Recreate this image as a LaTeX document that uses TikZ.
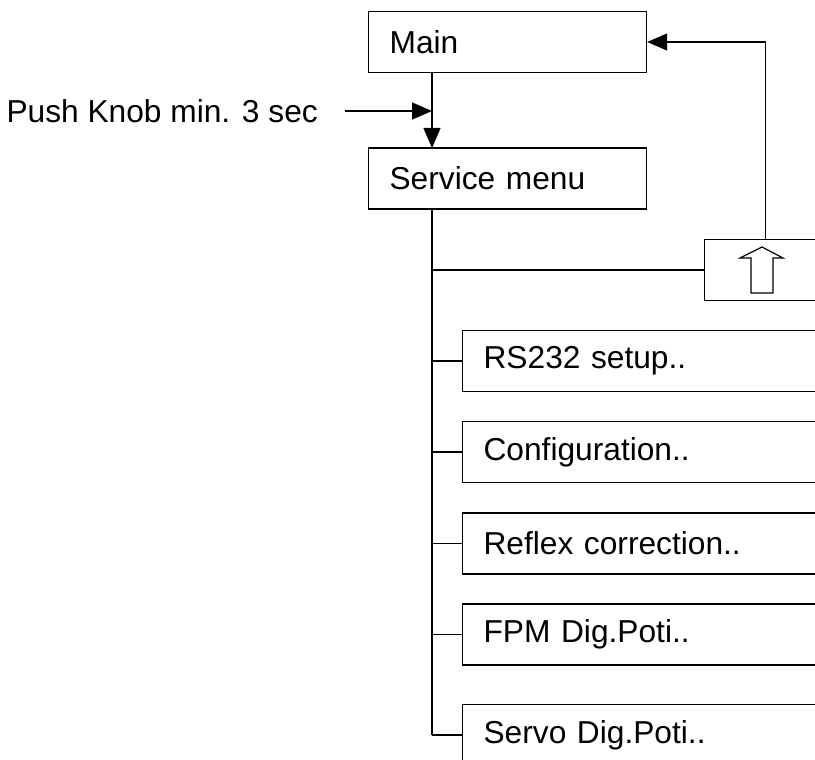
\documentclass[tikz,border=0pt]{standalone}
\usepackage{fontspec}
\setmainfont{Liberation Sans}
\usepackage{tikz}
\usetikzlibrary{positioning,arrows.meta}

\tikzset{
    menubox/.style={draw, line width=1.2pt, rectangle, minimum height=61pt, inner xsep=21pt,
        text width=400pt, align=left, anchor=west, font=\fontsize{31.7}{38}\selectfont},
    topbox/.style={menubox, text width=236pt},
    link/.style={line width=1.2pt},
    arr/.style={line width=1.2pt, -{Triangle[length=20pt,width=17pt]}}
}

\begin{document}
\begin{tikzpicture}[x=1pt,y=-1pt]
    \clip (0,0) rectangle (815,760); % page frame
    \node[topbox] (main) at (368,42) {Main};
    \node[topbox] (service) at (368,178.5) {Service menu};
    \node[anchor=east, inner sep=0pt, font=\fontsize{31.7}{38}\selectfont] (push) at (318,111) {Push Knob min. 3 sec};
    \node[draw, line width=1.2pt, minimum width=122pt, minimum height=61pt, anchor=west] (up) at (704,270) {};
    % hollow up arrow inside the back box
    \draw[line width=1.2pt] (762,247) -- (783,258) -- (773,258) -- (773,293) -- (751,293) -- (751,258) -- (740,258) -- cycle;
    \coordinate (mainfoot) at (432,72);
    \coordinate (servhead) at (432,148);
    \coordinate (servfoot) at (432,209);
    \coordinate (pin) at (345,111);
    \coordinate (knob) at (432,111);
    \draw[arr] (mainfoot) -- (servhead); % Main to Service menu
    \draw[arr] (pin) -- (knob); % knob push
    \draw[arr] (up.north) |- (main.east); % back to Main
    \draw[link] (servfoot |- up.west) -- (up.west);
    % submenu entries
    \foreach \y/\txt/\nm in {361/RS232 setup../rs, 452/Configuration../conf, 543.5/Reflex correction../refl,
                             634.5/FPM Dig.Poti../fpm, 735/Servo Dig.Poti../servo} {
        \node[menubox] (\nm) at (462,\y) {\txt};
        \draw[link] (servfoot |- \nm.west) -- (\nm.west);
    }
    \draw[link] (servfoot) -- (servfoot |- servo.west); % trunk
\end{tikzpicture}
\end{document}
